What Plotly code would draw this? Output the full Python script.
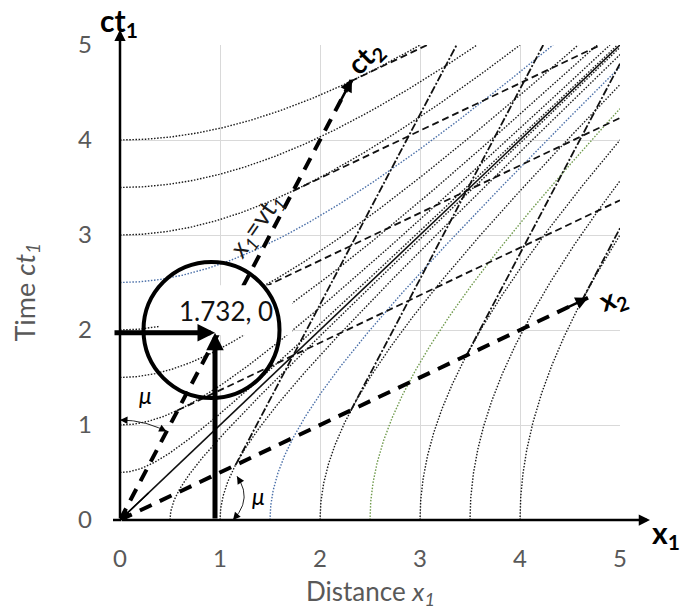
import numpy as np
import plotly.graph_objects as go

# ---------------- data ----------------
V = 0.5                                   # relative velocity v/c of frame 2
TIMELIKE_K = [0.5, 1.0, 1.5, 2.0, 2.5, 3.0, 3.5, 4.0]     # ct1^2 - x1^2 = k^2
TIMELIKE_TONE = ["k", "k", "k", "k", "b", "k", "k", "k"]
SPACELIKE_K = [0.5, 1.0, 1.5, 2.0, 2.5, 3.0, 3.5, 4.0]    # x1^2 - ct1^2 = k^2
SPACELIKE_TONE = ["k", "k", "b", "k", "g", "k", "k", "k"]
SIMULT_K = [1, 2, 3, 4]      # lines of constant ct2 (tangent to timelike hyperbolas)
PLACE_K = [1, 2, 3, 4]       # lines of constant x2 (tangent to spacelike hyperbolas)
TICKS = [0, 1, 2, 3, 4, 5]
TICK_TEXT = ["0", "1", "2", "3", "4", "5"]
CT2_TIP = 4.64               # ct1 value at the tip of the ct2 axis arrow
X2_TIP = 4.68                # x1 value at the tip of the x2 axis arrow
POINT = [0.95, 1.97]         # event marked by the two heavy arrows
POINT_LABEL = "1.732, 0"
CIRCLE_CENTER = [0.915, 2.0]
LABEL_CENTER = [1.06, 2.23]

# ---------------- layout constants ----------------
W, H = 681, 610
ML, MR, MT, MB = 120, 61, 45, 90
XMAX = YMAX = 5.0
PX_X = (W - ML - MR) / XMAX
PX_Y = (H - MT - MB) / YMAX

TONE = {"k": "#1a1a1a", "b": "#4a6fa8", "g": "#6f9a4c"}
DOT = "1.5px,1.6px"
FONT = "Lato, 'Open Sans', sans-serif"
GREY = "#595959"

fig = go.Figure()
gamma = 1.0 / np.sqrt(1 - V ** 2)
root = np.sqrt(1 - V ** 2)

# timelike hyperbolas
for k, t in zip(TIMELIKE_K, TIMELIKE_TONE):
    xend = min(XMAX, np.sqrt(YMAX ** 2 - k ** 2))
    xs = np.linspace(0, xend, 300)
    fig.add_trace(go.Scatter(x=xs, y=np.sqrt(k ** 2 + xs ** 2), mode="lines",
                             line=dict(color=TONE[t], width=1.4, dash=DOT),
                             hoverinfo="skip", showlegend=False))
# spacelike hyperbolas
for k, t in zip(SPACELIKE_K, SPACELIKE_TONE):
    cend = min(YMAX, np.sqrt(XMAX ** 2 - k ** 2))
    cs = np.linspace(0, cend, 300)
    fig.add_trace(go.Scatter(x=np.sqrt(k ** 2 + cs ** 2), y=cs, mode="lines",
                             line=dict(color=TONE[t], width=1.4, dash=DOT),
                             hoverinfo="skip", showlegend=False))

# light line
fig.add_trace(go.Scatter(x=[0, XMAX], y=[0, YMAX], mode="lines",
                         line=dict(color="#111111", width=1.6),
                         hoverinfo="skip", showlegend=False))

# lines of constant ct2
for k in SIMULT_K:
    c = k * root
    x0 = V * k * gamma
    x1 = min(XMAX, (YMAX - c) / V)
    fig.add_trace(go.Scatter(x=[x0, x1], y=[V * x0 + c, V * x1 + c], mode="lines",
                             line=dict(color="#111111", width=1.8, dash="7px,4px"),
                             hoverinfo="skip", showlegend=False))
# lines of constant x2
for k in PLACE_K:
    c = k * root
    c0 = V * k * gamma
    c1 = min(YMAX, (XMAX - c) / V)
    fig.add_trace(go.Scatter(x=[V * c0 + c, V * c1 + c], y=[c0, c1], mode="lines",
                             line=dict(color="#111111", width=1.8, dash="8px,2px,2px,2px"),
                             hoverinfo="skip", showlegend=False))

# heavy dashed axes of frame 2
fig.add_trace(go.Scatter(x=[0, V * CT2_TIP], y=[0, CT2_TIP], mode="lines",
                         line=dict(color="black", width=4, dash="13px,9px"),
                         hoverinfo="skip", showlegend=False))
fig.add_trace(go.Scatter(x=[0, X2_TIP], y=[0, V * X2_TIP], mode="lines",
                         line=dict(color="black", width=4, dash="13px,9px"),
                         hoverinfo="skip", showlegend=False))

# mu arcs
th0 = np.arctan2(PX_Y, V * PX_X)
th = np.linspace(np.pi / 2, th0, 40)
arc1x = 100 * np.cos(th) / PX_X
arc1y = 100 * np.sin(th) / PX_Y
fig.add_trace(go.Scatter(x=arc1x, y=arc1y, mode="lines",
                         line=dict(color="#222222", width=1),
                         hoverinfo="skip", showlegend=False))
s = np.linspace(0, 1, 40)
p0, pc, p2 = np.array([1.13, 0.0]), np.array([1.33, 0.22]), np.array([1.17, 0.46])
bz = ((1 - s) ** 2)[:, None] * p0 + (2 * (1 - s) * s)[:, None] * pc + (s ** 2)[:, None] * p2
fig.add_trace(go.Scatter(x=bz[:, 0], y=bz[:, 1], mode="lines",
                         line=dict(color="#222222", width=1),
                         hoverinfo="skip", showlegend=False))

shapes = []
# white label box
shapes.append(dict(type="rect", xref="x", yref="y", xsizemode="pixel", ysizemode="pixel",
                   xanchor=LABEL_CENTER[0], yanchor=LABEL_CENTER[1],
                   x0=-66, x1=66, y0=-27, y1=23,
                   fillcolor="white", line=dict(width=0), layer="above"))
# circle
shapes.append(dict(type="circle", xref="x", yref="y", xsizemode="pixel", ysizemode="pixel",
                   xanchor=CIRCLE_CENTER[0], yanchor=CIRCLE_CENTER[1],
                   x0=-68, x1=68, y0=-68, y1=68,
                   line=dict(color="black", width=4), layer="above"))
# short stub of the x1 axis left of the origin
shapes.append(dict(type="line", xref="paper", yref="paper", x0=-0.014, x1=0.002, y0=0, y1=0,
                   line=dict(color="black", width=2.5), layer="above"))

ann = []


def arrow(x, y, ax, ay, w, size, head=2, color="black"):
    ann.append(dict(x=x, y=y, ax=ax, ay=ay, xref="x", yref="y", axref="x", ayref="y",
                    text="", showarrow=True, arrowhead=head, arrowwidth=w,
                    arrowsize=size, arrowcolor=color, standoff=0, startstandoff=0))


def label(x, y, text, size, color="black", angle=0, xref="x", yref="y", xs=0, ys=0):
    ann.append(dict(x=x, y=y, xref=xref, yref=yref, text=text, showarrow=False,
                    font=dict(family=FONT, size=size, color=color), textangle=angle,
                    xshift=xs, yshift=ys, xanchor="center", yanchor="middle"))


label(LABEL_CENTER[0], LABEL_CENTER[1] - 0.03, POINT_LABEL, 26, color="#111111")

# axes of frame 1
arrow(5.3, 0, 0, 0, 2.5, 0.9)
arrow(0, 5.16, 0, 0, 2.5, 0.9)
# heavy arrows to the event
arrow(POINT[0], POINT[1], -0.07, POINT[1], 5, 0.7)
arrow(POINT[0], POINT[1], POINT[0], 0, 5, 0.7)
# light line arrowhead at origin
arrow(0, 0, 0.3, 0.3, 1.4, 1.6)
# frame 2 axis arrowheads
arrow(V * CT2_TIP, CT2_TIP, V * (CT2_TIP - 0.25), CT2_TIP - 0.25, 2.5, 1.0)
arrow(X2_TIP, V * X2_TIP, X2_TIP - 0.25, V * (X2_TIP - 0.25), 2.5, 1.0)
# mu arc arrowheads
arrow(arc1x[-1], arc1y[-1], arc1x[-6], arc1y[-6], 1, 1.5)
arrow(arc1x[0], arc1y[0], arc1x[5], arc1y[5], 1, 1.5)
arrow(bz[-1, 0], bz[-1, 1], bz[-6, 0], bz[-6, 1], 1, 1.5)
arrow(bz[0, 0], bz[0, 1], bz[5, 0], bz[5, 1], 1, 1.5)

# labels
label(0.25, 1.32, "<i>μ</i>", 23)
label(1.38, 0.25, "<i>μ</i>", 23)
label(1.36, 3.1, "<i>x</i><sub><i>1</i></sub>=vt<sub><i>1</i></sub>", 26, color="#1a1a1a", angle=-55)
label(0, 1, "<b>ct<sub>1</sub></b>", 30, yref="paper", xs=-1, ys=23)
label(1, 0, "<b>x<sub>1</sub></b>", 30, xref="paper", xs=46, ys=-14)
label(2.45, 4.86, "<b>ct<sub>2</sub></b>", 28, angle=-45)
label(4.93, 2.33, "<b>x<sub>2</sub></b>", 28, angle=-20)
label(0.5, 0, "Distance <i>x<sub>1</sub></i>", 26, color=GREY, xref="paper", yref="paper", ys=-72)
label(0, 0.5, "Time <i>ct<sub>1</sub></i>", 27, color=GREY, xref="paper", yref="paper", xs=-94, ys=-10, angle=-90)

axis_common = dict(range=[0, 5], showgrid=True, gridcolor="#D9D9D9", gridwidth=1,
                   zeroline=False, showline=False, ticks="", tickvals=TICKS, ticktext=TICK_TEXT,
                   tickfont=dict(family=FONT, size=24, color=GREY), fixedrange=True)

fig.update_layout(
    width=W, height=H, margin=dict(l=ML, r=MR, t=MT, b=MB),
    paper_bgcolor="white", plot_bgcolor="white", showlegend=False,
    xaxis=dict(**axis_common, ticklabelstandoff=22),
    yaxis=dict(**axis_common, ticklabelstandoff=27),
    shapes=shapes, annotations=ann,
)

fig.write_html("out.html", config={"displayModeBar": False},
               post_script="document.body.style.margin='0';")
